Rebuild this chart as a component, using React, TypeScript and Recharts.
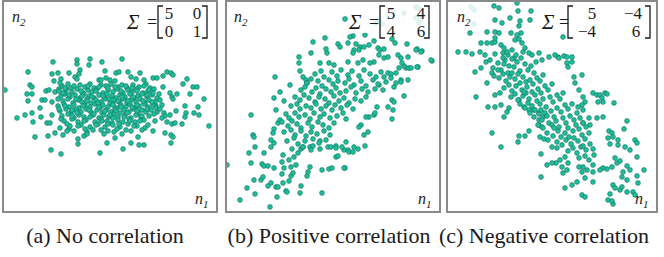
import { ScatterChart, Scatter, XAxis, YAxis } from 'recharts';

type Pt = [number, number];

// point positions: [n1, n2] in panel units (n2 counted downward)
const NO_CORR_OUTER: Pt[] = [
  [3, 90], [51, 62], [75, 60], [75, 64], [88, 59], [87, 65], [100, 62], [120, 59], [26, 72], [50, 74],
  [56, 73], [67, 73], [78, 70], [77, 74], [103, 71], [114, 73], [117, 72], [126, 72], [138, 73], [165, 72],
  [169, 73], [171, 75], [52, 81], [59, 79], [73, 77], [75, 79], [97, 80], [99, 80], [104, 78], [108, 80],
  [113, 81], [129, 77], [134, 79], [142, 80], [151, 78], [155, 78], [161, 76], [181, 84], [185, 79], [28, 85],
  [30, 87], [25, 94], [30, 94], [26, 101], [44, 91], [47, 90], [53, 92], [57, 89], [64, 89], [191, 87],
  [195, 87], [161, 87], [188, 94], [175, 94], [170, 97], [171, 99], [168, 93], [202, 99], [15, 118], [23, 115],
  [30, 113], [38, 108], [40, 100], [43, 100], [50, 102], [50, 115], [39, 117], [31, 122], [45, 123], [48, 123],
  [58, 128], [67, 129], [33, 137], [46, 136], [53, 133], [61, 135], [49, 150], [59, 154], [76, 139], [82, 136],
  [85, 132], [76, 144], [98, 153], [105, 143], [113, 138], [121, 149], [129, 143], [137, 145], [142, 145], [136, 137],
  [143, 128], [151, 131], [163, 133], [169, 135], [171, 137], [169, 143], [165, 122], [168, 115], [174, 111], [183, 106],
  [184, 113], [183, 117], [192, 113], [196, 107], [197, 115], [207, 126], [154, 106], [162, 113], [170, 124], [180, 124],
  [173, 123],
];

const NO_CORR_CORE: Pt[] = [
  [60, 86], [66, 84], [69, 88], [78, 85], [83, 87], [88, 84], [92, 88], [99, 85], [104, 86], [109, 84], [116, 87],
  [120, 85], [125, 88], [131, 85], [137, 87], [144, 84], [148, 88],
  [57, 91], [64, 90], [70, 92], [75, 89], [81, 93], [86, 90], [90, 92], [95, 89], [101, 93], [106, 90], [111, 92],
  [115, 89], [121, 93], [126, 90], [130, 92], [135, 89], [141, 93], [146, 91], [152, 89],
  [59, 96], [63, 94], [68, 97], [73, 95], [78, 98], [82, 94], [87, 96], [92, 98], [97, 95], [102, 97], [105, 94],
  [110, 96], [114, 98], [118, 95], [123, 97], [128, 94], [132, 98], [136, 96], [140, 94], [145, 97], [150, 95], [155, 98],
  [61, 101], [66, 99], [71, 103], [76, 100], [80, 102], [85, 99], [89, 103], [94, 100], [99, 102], [103, 99], [108, 103],
  [112, 100], [117, 102], [121, 99], [125, 103], [129, 100], [134, 102], [138, 99], [143, 103], [147, 100], [153, 102], [158, 100],
  [56, 106], [62, 104], [67, 107], [72, 105], [77, 108], [83, 105], [88, 107], [93, 104], [98, 108], [101, 105], [106, 107],
  [111, 104], [115, 108], [119, 105], [124, 107], [128, 104], [133, 108], [137, 106], [142, 104], [146, 107], [151, 105],
  [58, 111], [64, 109], [69, 113], [74, 110], [79, 112], [84, 109], [89, 112], [95, 110], [100, 113], [104, 110], [109, 112],
  [113, 109], [118, 113], [122, 110], [127, 112], [131, 109], [136, 113], [140, 110], [144, 112], [149, 110], [155, 112],
  [60, 116], [66, 114], [72, 118], [77, 115], [82, 117], [91, 115], [97, 118], [102, 115], [107, 117], [112, 114],
  [116, 117], [123, 115], [129, 118], [134, 115], [139, 117], [147, 116],
  [62, 121], [70, 119], [76, 122], [84, 120], [93, 122], [99, 119], [105, 121], [110, 123], [116, 120], [121, 122],
  [127, 119], [133, 122], [142, 120],
  [68, 126], [79, 125], [88, 127], [96, 124], [103, 127], [111, 125], [118, 127], [126, 124], [135, 126],
  [72, 131], [91, 130], [106, 131], [115, 129], [129, 131],
];

const NO_CORR_FILL: Pt[] = [
  [58, 83], [63, 88], [72, 86], [79, 91], [86, 86], [94, 91], [97, 87], [106, 88], [113, 87], [119, 91], [124, 86],
  [130, 88], [135, 91], [142, 86], [147, 90], [151, 93], [157, 94],
  [56, 99], [61, 93], [67, 95], [74, 99], [80, 96], [85, 101], [90, 97], [96, 103], [101, 96], [107, 99], [111, 105],
  [116, 101], [120, 97], [126, 101], [131, 97], [135, 105], [141, 101], [145, 95], [150, 102], [154, 108], [160, 105],
  [57, 109], [63, 106], [70, 110], [75, 113], [81, 106], [87, 110], [92, 114], [97, 107], [103, 111], [108, 115],
  [114, 111], [119, 107], [125, 113], [130, 107], [135, 111], [140, 116], [145, 109], [152, 114], [158, 109], [163, 116],
  [59, 119], [65, 124], [70, 116], [76, 126], [82, 121], [88, 117], [94, 125], [100, 121], [106, 124], [111, 118],
  [117, 124], [122, 117], [128, 121], [132, 126], [138, 121], [146, 125], [153, 121], [160, 118],
  [65, 131], [83, 129], [99, 130], [112, 132], [124, 130], [140, 130], [85, 134], [102, 134], [120, 134],
];

const POS_CORR_OUTER: Pt[] = [
  [2, 165], [15, 200], [22, 188], [26, 115], [28, 135], [29, 137], [30, 147], [24, 153], [26, 163], [29, 180],
  [30, 194], [37, 164], [39, 166], [36, 180], [38, 177], [43, 166], [45, 207], [46, 183], [43, 186], [52, 197],
  [51, 187], [58, 183], [61, 191], [66, 176], [68, 173], [75, 193], [76, 186], [82, 176], [83, 172], [97, 170],
  [104, 169], [97, 193], [120, 168], [39, 153], [46, 147], [49, 143], [46, 140], [49, 129], [48, 133], [53, 123],
  [55, 120], [49, 98], [55, 92], [50, 77], [65, 85], [74, 63], [75, 71], [88, 42], [86, 53], [100, 38],
  [102, 53], [101, 49], [57, 162], [59, 168], [58, 155], [64, 160], [69, 157], [71, 165], [73, 153], [76, 149],
  [78, 147], [85, 147], [88, 146], [95, 149], [95, 141], [103, 147], [106, 147], [111, 146], [111, 157], [113, 156],
  [119, 150], [123, 150], [129, 147], [133, 149], [140, 146], [139, 135], [143, 132], [149, 115], [152, 107], [163, 107],
  [167, 100], [169, 102], [168, 110], [167, 119], [179, 96], [183, 80], [169, 87], [176, 80], [161, 82], [163, 73],
  [158, 90], [154, 85], [166, 74], [171, 73], [181, 68], [184, 68], [193, 67], [179, 66], [176, 58], [173, 55],
  [159, 58], [163, 57], [154, 55], [149, 62], [145, 63], [207, 61], [192, 49], [197, 51], [182, 44], [170, 43],
  [167, 39], [149, 41], [140, 35], [128, 36], [125, 37], [123, 43], [131, 44], [135, 47], [139, 47], [144, 45],
  [153, 48], [155, 50], [159, 49], [129, 50], [134, 50], [128, 53], [113, 44], [115, 47], [123, 62], [133, 63],
  [138, 60], [104, 63], [109, 65], [95, 63], [120, 19], [74, 57], [78, 77], [81, 80], [82, 83], [59, 101],
  [51, 110], [49, 168], [66, 167], [57, 174], [53, 187], [64, 181], [62, 192], [85, 167], [150, 113], [144, 117],
  [141, 117], [136, 125], [134, 127], [121, 142], [117, 147], [111, 148], [124, 152], [128, 152], [119, 168], [107, 168],
  [191, 50], [196, 52], [206, 60], [192, 67], [183, 57], [177, 63], [174, 68], [186, 68], [166, 78], [159, 77],
  [171, 83], [176, 82],
];

// points partly hidden behind the matrix label
const POS_CORR_HIDDEN: Pt[] = [
  [179, 13], [191, 7], [193, 8], [191, 18], [194, 23], [196, 19], [154, 20], [157, 24], [151, 23], [166, 12],
];

const POS_CORR_CORE: Pt[] = [
  [90, 74], [96, 71], [99, 77], [107, 72], [112, 76], [116, 70], [123, 75], [127, 71], [134, 76], [139, 70], [145, 74],
  [151, 77], [156, 72],
  [82, 83], [86, 79], [93, 81], [97, 86], [104, 80], [108, 84], [113, 81], [120, 83], [124, 79], [129, 85], [136, 81],
  [141, 86], [148, 80], [153, 84],
  [76, 90], [80, 87], [87, 92], [91, 88], [95, 94], [101, 89], [106, 92], [111, 88], [115, 93], [121, 91], [126, 87],
  [131, 93], [137, 89], [143, 92], [150, 89],
  [70, 97], [75, 100], [79, 95], [84, 98], [90, 102], [94, 97], [100, 99], [104, 103], [109, 96], [114, 101], [119, 98],
  [124, 103], [130, 99], [136, 101], [141, 97],
  [66, 106], [72, 104], [75, 109], [81, 106], [86, 108], [91, 104], [96, 109], [101, 106], [107, 110], [110, 105],
  [116, 108], [122, 105], [128, 109],
  [61, 114], [64, 118], [70, 113], [74, 117], [80, 115], [85, 119], [89, 113], [95, 117], [99, 114], [105, 118],
  [112, 116], [118, 113], [121, 119],
  [57, 122], [63, 126], [67, 121], [72, 124], [76, 128], [83, 123], [87, 127], [93, 122], [98, 125], [104, 128], [109, 123],
  [59, 132], [66, 130], [70, 135], [76, 131], [81, 136], [86, 132], [92, 134], [99, 131], [105, 135],
  [62, 141], [69, 138], [73, 144], [80, 141], [88, 139], [94, 143], [101, 140],
  [67, 149], [78, 147], [86, 150],
];

const NEG_CORR_OUTER: Pt[] = [
  [48, 6], [53, 8], [71, 3], [72, 11], [85, 11], [49, 20], [56, 23], [64, 18], [74, 21], [84, 20],
  [24, 33], [41, 32], [49, 32], [53, 33], [73, 26], [75, 33], [71, 35], [65, 33], [35, 43], [41, 43],
  [46, 43], [49, 42], [49, 38], [12, 52], [20, 52], [26, 54], [34, 52], [39, 55], [29, 72], [35, 68],
  [40, 62], [30, 97], [46, 133], [55, 147], [72, 142], [73, 136], [79, 136], [83, 131], [95, 154], [101, 165],
  [95, 177], [41, 83], [46, 73], [48, 76], [49, 95], [54, 93], [55, 105], [49, 107], [42, 107], [58, 117],
  [61, 112], [63, 108], [55, 45], [58, 48], [57, 53], [69, 40], [73, 39], [76, 43], [79, 48], [77, 52],
  [66, 50], [62, 55], [59, 60], [68, 58], [83, 53], [86, 55], [93, 53], [96, 60], [90, 62], [73, 100],
  [78, 107], [83, 110], [88, 110], [93, 113], [97, 117], [93, 125], [96, 127], [93, 120], [94, 137], [98, 139],
  [102, 140], [106, 147], [111, 148], [117, 37], [109, 55], [112, 57], [118, 56], [121, 57], [126, 57], [126, 62],
  [136, 75], [147, 93], [151, 95], [154, 95], [159, 93], [161, 94], [156, 98], [157, 102], [152, 102], [137, 97],
  [139, 102], [136, 105], [132, 107], [137, 110], [143, 118], [151, 118], [157, 117], [144, 125], [137, 123], [181, 121],
  [178, 129], [163, 131], [166, 133], [167, 137], [162, 138], [164, 144], [172, 140], [172, 145], [179, 147], [189, 140],
  [191, 143], [184, 150], [191, 157], [169, 158], [171, 163], [174, 161], [166, 167], [157, 168], [154, 170], [161, 169],
  [181, 166], [184, 170], [177, 172], [176, 177], [181, 180], [191, 176], [198, 170], [192, 183], [147, 165], [141, 170],
  [147, 172], [137, 167], [133, 167], [136, 172], [139, 178], [131, 182], [126, 185], [119, 188], [117, 173], [121, 170],
  [122, 163], [116, 167], [147, 182], [167, 185], [169, 188], [174, 190], [176, 187], [181, 192], [187, 192], [189, 195],
  [164, 194], [162, 200], [167, 204], [166, 201], [136, 195], [139, 197], [110, 163], [114, 160], [106, 163], [119, 157],
  [103, 57], [113, 58], [121, 63], [122, 67], [128, 77], [129, 83], [133, 90], [168, 103],
];

const NEG_CORR_HIDDEN: Pt[] = [[25, 7], [28, 10], [28, 24]];

const NEG_CORR_CORE: Pt[] = [
  [44, 60], [49, 54], [52, 63], [57, 58], [61, 52], [63, 66], [66, 59], [70, 55], [47, 68], [55, 70], [58, 64],
  [62, 73], [68, 67], [71, 62], [75, 58], [79, 64], [74, 71], [53, 78], [57, 74], [60, 81], [64, 77], [69, 79],
  [72, 74], [77, 77], [82, 70], [85, 66], [88, 73], [80, 82], [58, 88], [63, 85], [66, 91], [70, 86], [74, 83],
  [76, 90], [81, 87], [84, 80], [87, 84], [91, 78], [94, 81], [97, 75], [86, 92], [65, 97], [69, 94], [72, 100],
  [77, 96], [80, 93], [83, 99], [89, 95], [92, 89], [95, 93], [99, 86], [102, 90], [106, 84], [91, 101], [74, 104],
  [79, 108], [82, 103], [86, 106], [89, 110], [94, 104], [97, 99], [100, 107], [104, 97], [107, 102], [111, 95],
  [114, 99], [117, 93], [99, 113], [84, 113], [88, 117], [93, 114], [96, 120], [101, 116], [105, 111], [108, 117],
  [111, 108], [115, 112], [119, 105], [122, 109], [126, 104], [103, 123], [92, 125], [97, 128], [106, 125], [110, 121],
  [113, 127], [117, 118], [120, 123], [124, 116], [128, 120], [131, 113], [134, 118], [101, 133], [107, 136], [112, 131],
  [115, 137], [119, 133], [122, 128], [127, 131], [130, 125], [133, 129], [137, 123], [140, 127], [111, 142], [116, 145],
  [120, 140], [125, 144], [128, 138], [132, 141], [136, 135], [139, 139], [143, 133], [122, 151], [127, 148], [131, 153],
  [135, 147], [140, 150], [144, 144], [147, 149], [133, 158], [139, 156], [143, 160], [148, 155], [52, 70], [66, 73],
  [78, 92], [95, 110], [108, 128], [123, 137], [137, 146],
];

const CAPTIONS = ['(a) No correlation', '(b) Positive correlation', '(c) Negative correlation'];
const MATRICES = [
  ['5', '0', '0', '1'],
  ['5', '4', '4', '6'],
  ['5', '\u22124', '\u22124', '6'],
];

const PANEL_H = 213;
const DOT = '#20bf9c';
const DOT_EDGE = '#0d6f5b';
const FRAME = '#8a8a8a';
const INK = '#1a1a1a';
const SERIF = "'Liberation Serif', 'Times New Roman', 'DejaVu Serif', serif";

const rows = (pts: Pt[]) => pts.map(([n1, n2]) => ({ n1, n2 }));

interface DotProps { cx?: number; cy?: number }
const Dot = ({ cx, cy }: DotProps) =>
  cx == null || cy == null ? null : (
    <circle cx={cx} cy={cy} r={2.4} fill={DOT} stroke={DOT_EDGE} strokeWidth={0.6} />
  );

interface MatrixLayout {
  sigma: number; eq: number; lb: number; rb: number; cols: [number, number, number, number];
}

interface PanelProps {
  left: number;
  width: number;
  points: Pt[];
  matrix: string[];
  layout: MatrixLayout;
  n2x: number;
  n1x: number;
  mask?: { x: number; y: number; w: number; h: number };
}

const serif = { fontFamily: SERIF };

function Panel({ left, width, points, matrix, layout, n2x, n1x, mask }: PanelProps) {
  const { sigma, eq, lb, rb, cols } = layout;
  return (
    <div style={{ position: 'absolute', left, top: 0, width, height: PANEL_H }}>
      <ScatterChart width={width} height={PANEL_H} margin={{ top: 0, right: 0, bottom: 0, left: 0 }}>
        <XAxis type="number" dataKey="n1" domain={[0, width]} hide />
        <YAxis type="number" dataKey="n2" domain={[0, PANEL_H]} reversed hide />
        <Scatter data={rows(points)} shape={<Dot />} isAnimationActive={false} />
      </ScatterChart>
      <svg width={width} height={PANEL_H} style={{ position: 'absolute', left: 0, top: 0 }}>
        {mask && <rect x={mask.x} y={mask.y} width={mask.w} height={mask.h} fill="#fff" fillOpacity={0.85} />}
        {/* axis names */}
        <text x={n2x} y={22} style={serif} fontStyle="italic" fontSize={16} fill={INK}>
          n<tspan fontSize={11} dy={4}>2</tspan>
        </text>
        <text x={n1x} y={204} style={serif} fontStyle="italic" fontSize={16} fill={INK}>
          n<tspan fontSize={11} dy={4}>1</tspan>
        </text>
        {/* covariance matrix */}
        <text x={sigma} y={29} style={serif} fontStyle="italic" fontSize={21} fill={INK}>Σ</text>
        <text x={eq} y={28} style={serif} fontSize={18} fill={INK}>=</text>
        <path d={`M${lb + 5} 6 H${lb} V38 H${lb + 5}`} fill="none" stroke={INK} strokeWidth={1.3} />
        <path d={`M${rb - 5} 6 H${rb} V38 H${rb - 5}`} fill="none" stroke={INK} strokeWidth={1.3} />
        {matrix.map((v, i) => (
          <text key={i} x={cols[i]} y={i < 2 ? 19 : 37} textAnchor="middle" style={serif} fontSize={17} fill={INK}>
            {v}
          </text>
        ))}
      </svg>
      <div style={{
        position: 'absolute', left: 0, top: 0, width, height: PANEL_H,
        border: `2px solid ${FRAME}`, boxSizing: 'border-box',
      }} />
    </div>
  );
}

export default function App() {
  return (
    <div style={{ position: 'absolute', left: 0, top: 0, width: 664, height: 257, background: '#fff' }}>
      <Panel
        left={2}
        width={216}
        points={[...NO_CORR_OUTER, ...NO_CORR_CORE, ...NO_CORR_FILL]}
        matrix={MATRICES[0]}
        layout={{ sigma: 125, eq: 145, lb: 156, rb: 205, cols: [167, 195, 167, 195] }}
        n2x={10}
        n1x={193}
      />
      <Panel
        left={225}
        width={216}
        points={[...POS_CORR_OUTER, ...POS_CORR_HIDDEN, ...POS_CORR_CORE]}
        matrix={MATRICES[1]}
        layout={{ sigma: 124, eq: 144, lb: 155, rb: 204, cols: [166, 196, 166, 196] }}
        n2x={9}
        n1x={193}
        mask={{ x: 124, y: 2, w: 90, h: 31 }}
      />
      <Panel
        left={446}
        width={212}
        points={[...NEG_CORR_OUTER, ...NEG_CORR_HIDDEN, ...NEG_CORR_CORE]}
        matrix={MATRICES[2]}
        layout={{ sigma: 96, eq: 113, lb: 122, rb: 204, cols: [146, 187, 141, 190] }}
        n2x={11}
        n1x={189}
        mask={{ x: 6, y: 2, w: 26, h: 28 }}
      />
      <svg width={664} height={257} style={{ position: 'absolute', left: 0, top: 0, pointerEvents: 'none' }}>
        {CAPTIONS.map((c, i) => (
          <text key={c} x={[105, 329, 544][i]} y={243} textAnchor="middle" style={serif} fontSize={22} fill={INK}>
            {c}
          </text>
        ))}
      </svg>
    </div>
  );
}
